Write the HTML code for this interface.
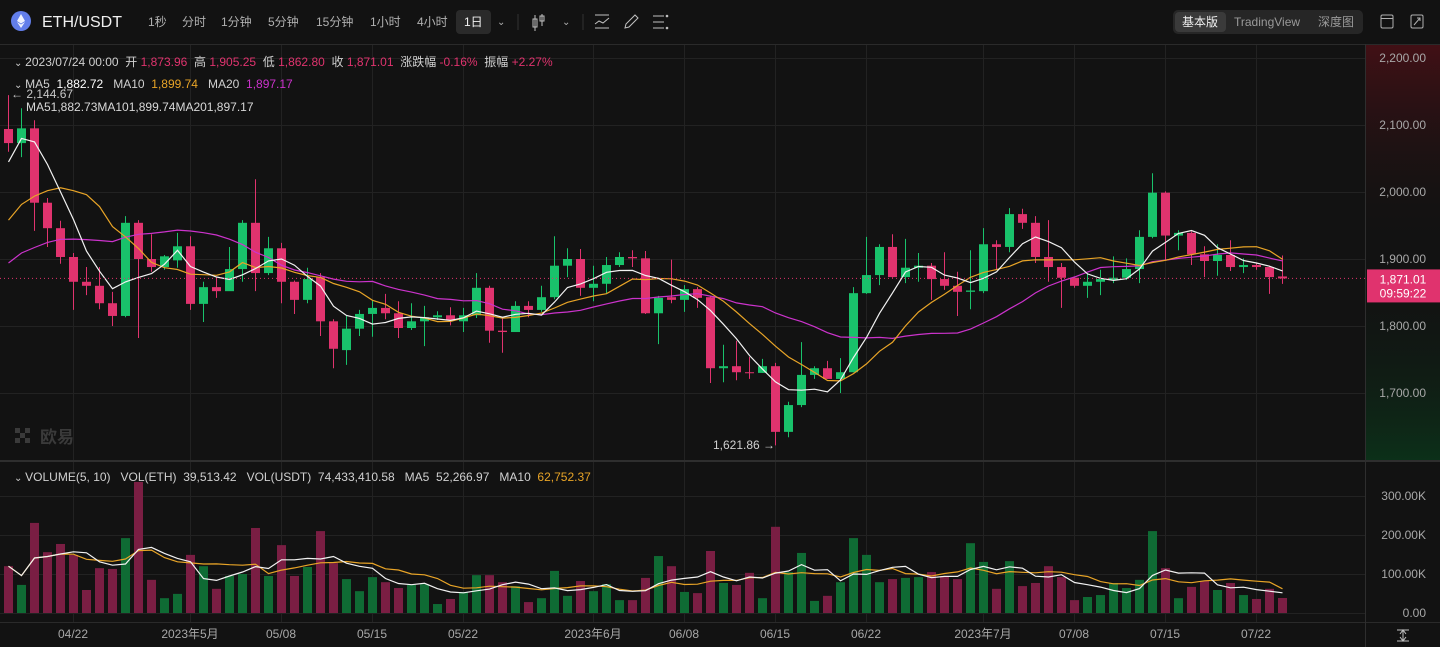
<!DOCTYPE html>
<html><head><meta charset="utf-8">
<style>
html,body{margin:0;padding:0;background:#121212;width:1440px;height:647px;overflow:hidden;}
svg{display:block;font-family:"Liberation Sans","Noto Sans CJK SC",sans-serif;}
svg text{white-space:pre;}
</style></head>
<body>
<svg id="chart" width="1440" height="647" viewBox="0 0 1440 647" xmlns="http://www.w3.org/2000/svg" xml:space="preserve">
<defs>
<linearGradient id="axisGrad" x1="0" y1="0" x2="0" y2="1">
<stop offset="0" stop-color="#4a1016" stop-opacity="0.85"/>
<stop offset="0.5" stop-color="#121212" stop-opacity="0"/>
<stop offset="1" stop-color="#0b351a" stop-opacity="0.85"/>
</linearGradient>
</defs>
<rect x="0" y="0" width="1440" height="647" fill="#121212"/>
<rect x="1366" y="45" width="74" height="415" fill="url(#axisGrad)"/>
<g id="grid"></g>
<g font-size="12" fill="#b0b0b0">
<circle cx="21" cy="21" r="10" fill="#627eea"/>
<path d="M21 14 L25 21 L21 23.5 L17 21 Z M21 24.5 L25 22 L21 28 L17 22 Z" fill="#fff" opacity="0.9"/>
<text x="42" y="27" font-size="16" fill="#f0f0f0">ETH/USDT</text>
<text x="148" y="26">1秒</text>
<text x="182" y="26">分时</text>
<text x="221" y="26">1分钟</text>
<text x="268" y="26">5分钟</text>
<text x="316" y="26">15分钟</text>
<text x="370" y="26">1小时</text>
<text x="417" y="26">4小时</text>
<rect x="456" y="10" width="35" height="24" rx="4" fill="#2a2a2a"/>
<text x="464" y="26" fill="#f0f0f0">1日</text>
<text x="497" y="25" font-size="10">⌄</text>
<line x1="518" y1="14" x2="518" y2="30" stroke="#333"/>
<g stroke="#c0c0c0" fill="none">
<line x1="535" y1="15" x2="535" y2="31"/><rect x="533" y="19" width="4" height="8"/>
<line x1="542" y1="14" x2="542" y2="26"/><rect x="540" y="16" width="4" height="5"/>
</g>
<text x="562" y="25" font-size="10">⌄</text>
<line x1="583" y1="14" x2="583" y2="30" stroke="#333"/>
<g stroke="#c0c0c0" fill="none"><line x1="595" y1="15" x2="609" y2="15"/><polyline points="595,24 599,21 603,23 609,18"/><line x1="595" y1="28" x2="609" y2="28"/></g>
<g stroke="#c0c0c0" fill="none"><path d="M625 28 L626 24 L635 15 L638 18 L629 27 Z"/></g>
<g stroke="#c0c0c0"><line x1="653" y1="16" x2="664" y2="16"/><line x1="653" y1="22" x2="664" y2="22"/><line x1="653" y1="28" x2="664" y2="28"/><circle cx="667" cy="16" r="0.8"/><circle cx="667" cy="28" r="0.8"/></g>
<rect x="1173" y="10" width="190" height="24" rx="5" fill="#262626"/>
<rect x="1175" y="12" width="51" height="20" rx="4" fill="#3a3a3a"/>
<text x="1182" y="26" fill="#f0f0f0">基本版</text>
<text x="1234" y="26" fill="#9a9a9a">TradingView</text>
<text x="1318" y="26" fill="#9a9a9a">深度图</text>
<rect x="1381" y="15" width="12" height="13" rx="1.5" fill="none" stroke="#b0b0b0"/>
<line x1="1381" y1="18.5" x2="1393" y2="18.5" stroke="#b0b0b0"/>
<rect x="1411" y="15" width="12" height="13" rx="1.5" fill="none" stroke="#b0b0b0"/>
<path d="M1414 25 L1420 18 M1417 18 L1420 18 L1420 21" stroke="#b0b0b0" fill="none"/>
</g>
<line x1="0" y1="44.5" x2="1440" y2="44.5" stroke="#2a2a2a"/>
<line x1="0" y1="461" x2="1440" y2="461" stroke="#2e2e2e" stroke-width="2"/>
<line x1="0" y1="622.5" x2="1440" y2="622.5" stroke="#2a2a2a"/>
<line x1="1365.5" y1="44" x2="1365.5" y2="647" stroke="#2e2e2e"/>
<g fill="#3a3a3a">
<rect x="15" y="428" width="5" height="5"/><rect x="25" y="428" width="5" height="5"/><rect x="20" y="433" width="5" height="5"/><rect x="15" y="438" width="5" height="5"/><rect x="25" y="438" width="5" height="5"/>
<text x="40" y="443" font-size="17" font-weight="bold">欧易</text>
</g>
<g id="candles"></g>
<g id="malines"></g>
<g id="vols"></g>
<g id="vmalines"></g>
<line id="lastLine" x1="0" x2="1366" stroke="#e0336e" stroke-dasharray="1,3" stroke-width="1"/>
<g id="axes" font-size="12" fill="#a8a8a8"></g>
<g font-size="12">
<text x="14" y="66" fill="#d0d0d0"><tspan font-size="10">⌄ </tspan>2023/07/24 00:00  开 <tspan fill="#e0336e">1,873.96</tspan>  高 <tspan fill="#e0336e">1,905.25</tspan>  低 <tspan fill="#e0336e">1,862.80</tspan>  收 <tspan fill="#e0336e">1,871.01</tspan>  涨跌幅 <tspan fill="#e0336e">-0.16%</tspan>  振幅 <tspan fill="#e0336e">+2.27%</tspan></text>
<text x="14" y="88" fill="#d0d0d0"><tspan font-size="10">⌄ </tspan>MA5  <tspan fill="#ffffff">1,882.72</tspan>   MA10  <tspan fill="#e8a427">1,899.74</tspan>   MA20  <tspan fill="#cc33cc">1,897.17</tspan></text>
<text x="11" y="98" fill="#c8c8c8">← 2,144.67</text>
<text x="26" y="111" fill="#d8d8d8">MA51,882.73MA101,899.74MA201,897.17</text>
<text x="713" y="449" fill="#d0d0d0">1,621.86 →</text>
<text x="14" y="481" fill="#d0d0d0"><tspan font-size="10">⌄ </tspan>VOLUME(5, 10)   VOL(ETH)  39,513.42   VOL(USDT)  74,433,410.58   MA5  52,266.97   MA10  <tspan fill="#e8a427">62,752.37</tspan></text>
</g>
<rect id="lastBox" x="1367" width="73" height="33" fill="#e0336e"/>
<text id="lastTxt1" x="1403" text-anchor="middle" font-size="12" fill="#fff">1,871.01</text>
<text id="lastTxt2" x="1403" text-anchor="middle" font-size="12" fill="#fff">09:59:22</text>
<g stroke="#c0c0c0" fill="none"><line x1="1397" y1="630" x2="1409" y2="630"/><line x1="1403" y1="630" x2="1403" y2="641"/><path d="M1400 634 L1403 630 L1406 634 M1400 637 L1403 641 L1406 637"/><line x1="1397" y1="641" x2="1409" y2="641"/></g>
</svg>
<script>
const open=[2094,2073,2095,1984,1946,1903,1866,1860,1834,1815,1954,1900,1888,1898,1919,1833,1858,1852,1885,1954,1879,1916,1866,1839,1873,1807,1764,1796,1818,1827,1819,1797,1807,1813,1816,1807,1816,1857,1793,1791,1830,1824,1843,1890,1900,1857,1863,1891,1903,1901,1819,1843,1839,1855,1843,1737,1740,1731,1730,1740,1642,1682,1727,1737,1721,1731,1849,1876,1918,1873,1887,1890,1870,1860,1851,1852,1922,1918,1967,1954,1903,1888,1872,1860,1866,1869,1872,1885,1933,1999,1935,1939,1907,1897,1906,1888,1891,1888,1873.96];
const close=[2073,2095,1984,1946,1903,1866,1860,1834,1815,1954,1900,1888,1904,1919,1833,1858,1852,1885,1954,1879,1916,1866,1839,1870,1807,1766,1796,1818,1827,1819,1797,1807,1813,1816,1809,1816,1857,1793,1791,1830,1824,1843,1890,1900,1857,1863,1891,1903,1901,1819,1842,1839,1855,1842,1737,1740,1731,1730,1740,1642,1682,1727,1737,1721,1731,1849,1876,1918,1873,1887,1890,1870,1860,1851,1853,1922,1918,1967,1954,1903,1888,1872,1860,1866,1870,1872,1885,1933,1999,1935,1939,1907,1897,1906,1888,1891,1888,1873,1871.01];
const high=[2144.67,2125,2107,1991,1957,1909,1888,1888,1851,1964,1958,1937,1906,1939,1934,1866,1873,1918,1958,2019,1933,1924,1868,1887,1879,1810,1815,1824,1839,1848,1837,1834,1830,1822,1828,1827,1879,1860,1812,1837,1837,1860,1934,1916,1915,1890,1903,1910,1913,1912,1845,1899,1861,1858,1845,1772,1778,1754,1751,1745,1687,1776,1740,1748,1752,1858,1933,1922,1937,1930,1909,1894,1910,1881,1913,1946,1928,1976,1975,1964,1958,1894,1874,1879,1884,1904,1901,1943,2028,2001,1943,1941,1919,1922,1928,1901,1894,1890,1905.25];
const low=[2060,2052,1942,1918,1893,1824,1846,1825,1800,1813,1782,1881,1884,1887,1824,1806,1842,1866,1866,1852,1876,1834,1818,1834,1785,1737,1742,1785,1784,1810,1782,1794,1770,1809,1801,1791,1812,1775,1760,1791,1813,1821,1840,1873,1845,1837,1849,1888,1888,1818,1773,1834,1821,1827,1715,1716,1719,1721,1730,1621.86,1634,1679,1721,1721,1700,1731,1848,1861,1872,1864,1866,1839,1854,1815,1825,1849,1884,1910,1945,1894,1866,1827,1857,1842,1846,1864,1869,1864,1931,1899,1913,1891,1873,1875,1882,1879,1884,1848,1862.80];
const volumeK=[120,72,231,156,177,149,59,115,113,192,336,85,38,49,149,120,62,95,100,218,95,174,95,118,210,128,87,56,92,79,64,72,74,23,36,54,97,97,79,69,28,38,108,44,82,56,74,33,33,90,146,120,54,51,159,77,72,103,38,221,105,154,31,44,79,192,149,79,87,90,92,105,95,87,179,131,62,133,69,77,120,92,33,41,46,77,64,85,210,115,38,67,82,59,77,46,36,62,38.5];
const priorClose=[1795,1820,1795,1810,1860,1875,1860,1850,1820,1815,1860,1860,1865,1860,1910,1920,2010,2115,2107];
const priceTicks=[2200,2100,2000,1900,1800,1700,1600];
const volTicks=[300,200,100,0];
const volTickLabels=['300.00K','200.00K','100.00K','0.00'];
const xTickIdx=[5,14,21,28,35,45,52,59,66,75,82,89,96];
const xTickLabels=['04/22','2023年5月','05/08','05/15','05/22','2023年6月','06/08','06/15','06/22','2023年7月','07/08','07/15','07/22'];
const lastPrice=1871.01;

const NS='http://www.w3.org/2000/svg';
function xOf(i){return 8+13*i;}
function yP(p){return 58+(2200-p)*0.67;}
function yV(v){return 613-v*0.39;}
function mk(tag,attrs,parent){const e=document.createElementNS(NS,tag);for(const k in attrs)e.setAttribute(k,attrs[k]);parent.appendChild(e);return e;}
const G=document.getElementById('grid'),C=document.getElementById('candles'),M=document.getElementById('malines'),V=document.getElementById('vols'),VM=document.getElementById('vmalines'),A=document.getElementById('axes');
const UP='#19c26b',DN='#e0336e',VUP='#0f6b34',VDN='#7a1e43';

priceTicks.forEach(function(p){
  const l=mk('line',{x1:0,x2:1366,y1:yP(p)+0.5,y2:yP(p)+0.5,stroke:'#222'},G);
  
  
  if(p>1600){
    const t=mk('text',{x:1426,y:yP(p)+4,'text-anchor':'end'},A);
    t.textContent=p.toLocaleString('en-US',{minimumFractionDigits:2});
    
    
  }
});
volTicks.forEach(function(v,k){
  const l=mk('line',{x1:0,x2:1366,y1:yV(v)+0.5,y2:yV(v)+0.5,stroke:'#222'},G);
  
  
  const t=mk('text',{x:1426,y:yV(v)+4,'text-anchor':'end'},A);
  t.textContent=volTickLabels[k];
  
  
});
xTickIdx.forEach(function(i,k){
  const x=xOf(i)+0.5;
  const l=mk('line',{x1:x,x2:x,y1:45,y2:622,stroke:'#222'},G);
  
  
  const t=mk('text',{x:xOf(i),y:638,'text-anchor':'middle'},A);
  t.textContent=xTickLabels[k];
  
  
});

for(let i=0;i<open.length;i++){
  const up=close[i]>=open[i],col=up?UP:DN,x=xOf(i);
  const w=mk('line',{x1:x+0.5,x2:x+0.5,y1:yP(high[i]),y2:yP(low[i]),stroke:col,'stroke-width':1},C);
  
  
  const top=yP(Math.max(open[i],close[i])),bot=yP(Math.min(open[i],close[i]));
  const b=mk('rect',{x:x-4,y:top,width:9,height:Math.max(1,bot-top),fill:col},C);
  
  
  const vb=mk('rect',{x:x-4,y:yV(volumeK[i]),width:9,height:613-yV(volumeK[i]),fill:up?VUP:VDN},V);
  
  
}

function maSeries(vals,pre,n){
  const all=pre.concat(vals),out=[];
  for(let i=0;i<vals.length;i++){
    const j=i+pre.length;const s=Math.max(0,j-n+1);let sum=0;
    for(let k=s;k<=j;k++)sum+=all[k];
    out.push(sum/(j-s+1));
  }
  return out;
}
function drawLine(vals,yf,col,parent,name){
  const pts=vals.map(function(v,i){return xOf(i)+0.5+','+yf(v).toFixed(1);}).join(' ');
  const pl=mk('polyline',{points:pts,fill:'none',stroke:col,'stroke-width':1.2},parent);
  
  
}
drawLine(maSeries(close,priorClose,20),yP,'#cc33cc',M,'ma20-line');
drawLine(maSeries(close,priorClose,10),yP,'#e8a427',M,'ma10-line');
drawLine(maSeries(close,priorClose,5),yP,'#f2f2f2',M,'ma5-line');
drawLine(maSeries(volumeK,[],10),yV,'#e8a427',VM,'volume-ma10-line');
drawLine(maSeries(volumeK,[],5),yV,'#f2f2f2',VM,'volume-ma5-line');

const ly=yP(lastPrice);
const ll=document.getElementById('lastLine');ll.setAttribute('y1',ly);ll.setAttribute('y2',ly);
document.getElementById('lastBox').setAttribute('y',ly-9);
document.getElementById('lastTxt1').setAttribute('y',ly+5);
document.getElementById('lastTxt2').setAttribute('y',ly+19);
</script>
</body></html>
